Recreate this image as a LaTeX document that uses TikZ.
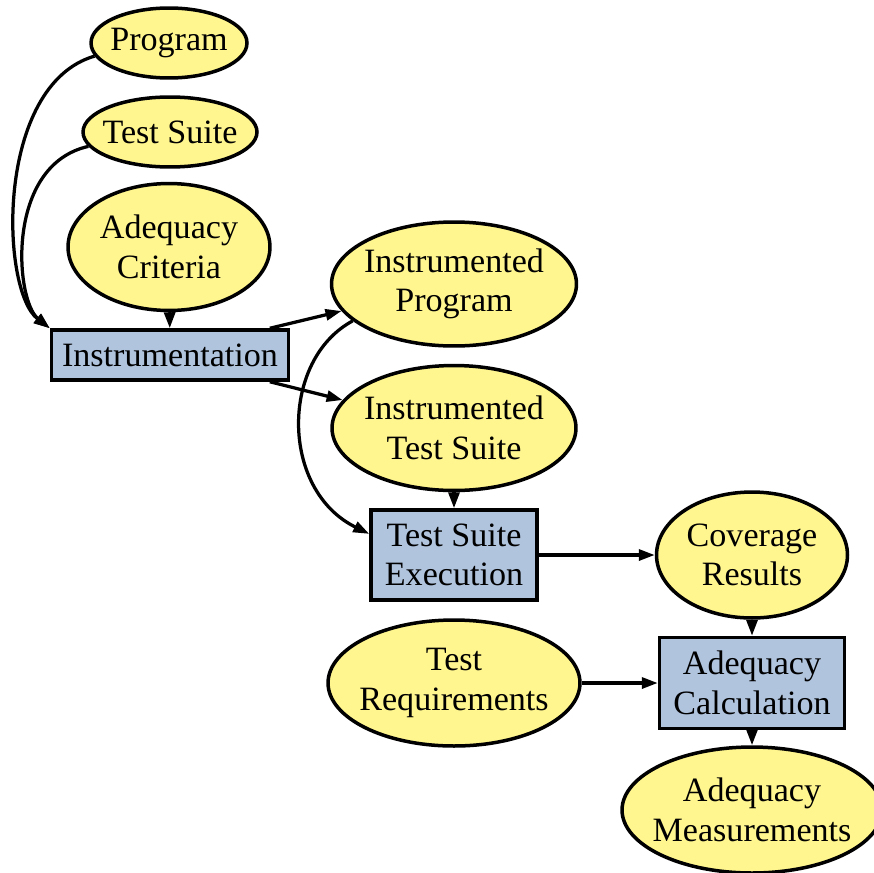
\documentclass[tikz,border=0pt]{standalone}
\usepackage{fontspec}
\setmainfont{Liberation Serif}
\usetikzlibrary{shapes,arrows.meta}
\definecolor{artifactfill}{HTML}{FFF68F}
\definecolor{activityfill}{HTML}{B0C4DE}
\tikzstyle{artifact}=[ellipse,draw,line width=0.07cm,fill=artifactfill,inner sep=-0.6cm,align=center]
\tikzstyle{activity}=[rectangle,draw,line width=0.07cm,fill=activityfill,inner sep=0pt,align=center]

\begin{document}
\begin{tikzpicture}[x=0.02cm,y=-0.02cm,
    font=\fontsize{19.4}{22.5}\selectfont,
    >={Triangle[length=0.32cm,width=0.22cm]},
    every edge/.style={draw,line width=0.065cm}]
  \useasboundingbox (0,0) rectangle (874,872);
  \node[artifact,minimum width=3.12cm,minimum height=1.4cm] (prog) at (169,43) {Program};
  \node[artifact,minimum width=3.48cm,minimum height=1.4cm] (ts) at (170,132) {Test Suite};
  \node[artifact,minimum width=4.04cm,minimum height=2.54cm] (crit) at (169,247) {Adequacy\\Criteria};
  \node[activity,minimum width=4.74cm,minimum height=1cm] (instr) at (170,355) {Instrumentation}
    edge [<-] (crit);
  \node[artifact,minimum width=4.9cm,minimum height=2.48cm] (ip) at (454,284) {Instrumented\\Program}
    edge [<-] (instr.15);
  \node[artifact,minimum width=4.88cm,minimum height=2.5cm] (its) at (454,428) {Instrumented\\Test Suite}
    edge [<-] (instr.-15);
  \node[activity,minimum width=3.32cm,minimum height=1.8cm] (tse) at (454,555) {Test Suite\\Execution}
    edge [<-] (its);
  \node[artifact,minimum width=3.82cm,minimum height=2.52cm] (cov) at (752,555) {Coverage\\Results}
    edge [<-] (tse);
  \node[artifact,minimum width=5.04cm,minimum height=2.52cm] (req) at (454,683) {Test\\Requirements};
  \node[activity,minimum width=3.7cm,minimum height=1.82cm] (calc) at (752,683) {Adequacy\\Calculation}
    edge [<-] (cov)
    edge [<-] (req);
  \node[artifact,minimum width=5.2cm,minimum height=2.52cm] (meas) at (752,810) {Adequacy\\Measurements}
    edge [<-] (calc);
  % curved inputs
  \draw[->,line width=0.065cm] (prog.190) .. controls (-5,85) and (0,290) .. (instr.north west);
  \draw[->,line width=0.065cm] (ts.190) .. controls (5,165) and (15,300) .. (instr.north west);
  \draw[->,line width=0.065cm] (ip.200) .. controls (280,360) and (280,490) .. (tse.166);
\end{tikzpicture}
\end{document}
